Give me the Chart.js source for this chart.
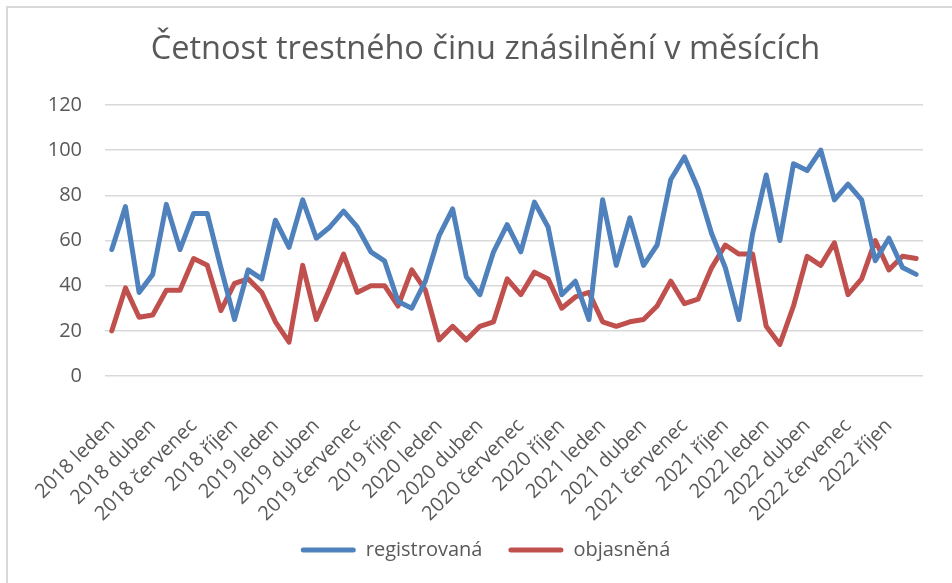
<!DOCTYPE html>
<html>
<head>
<meta charset="utf-8">
<script src="https://cdn.jsdelivr.net/npm/chart.js@4/dist/chart.umd.min.js"></script>
<style>
  html, body { margin: 0; padding: 0; background: #fff; overflow: hidden; }
  #frame {
    position: absolute; left: 6px; top: 6px; width: 958px; height: 600px;
    border-left: 2px solid #d9d9d9; border-top: 2px solid #d9d9d9;
  }
  #box { position: absolute; left: 0; top: 0; width: 958px; height: 575px; }
</style>
</head>
<body>
<div id="frame"><div id="box"><canvas id="myChart"></canvas></div></div>
<script>
// months and years for the category axis
var months = ["leden", "únor", "březen", "duben", "květen", "červen",
              "červenec", "srpen", "září", "říjen", "listopad", "prosinec"];
var years = [2018, 2019, 2020, 2021, 2022];

// values
var registrovana = [56, 75, 37, 45, 76, 56, 72, 72, 48, 25, 47, 43,
                    69, 57, 78, 61, 66, 73, 66, 55, 51, 33, 30, 42,
                    62, 74, 44, 36, 55, 67, 55, 77, 66, 36, 42, 25,
                    78, 49, 70, 49, 58, 87, 97, 83, 63, 48, 25, 63,
                    89, 60, 94, 91, 100, 78, 85, 78, 51, 61, 48, 45];
var objasnena = [20, 39, 26, 27, 38, 38, 52, 49, 29, 41, 43, 37,
                 24, 15, 49, 25, 39, 54, 37, 40, 40, 31, 47, 38,
                 16, 22, 16, 22, 24, 43, 36, 46, 43, 30, 35, 37,
                 24, 22, 24, 25, 31, 42, 32, 34, 48, 58, 54, 54,
                 22, 14, 31, 53, 49, 59, 36, 43, 60, 47, 53, 52];

var labels = [];
for (var y = 0; y < years.length; y++) {
  for (var m = 0; m < months.length; m++) {
    labels.push(years[y] + " " + months[m]);
  }
}

var txt = "#595959";
var font = "'Open Sans', sans-serif";

var ctx = document.getElementById("myChart").getContext("2d");
var mychart = new Chart(ctx, {
  type: "line",
  data: {
    labels: labels,
    datasets: [{
      label: "registrovaná",
      data: registrovana,
      borderColor: "#4f81bd",
      backgroundColor: "#4f81bd",
      borderWidth: 5,
      fill: false
    }, {
      label: "objasněná",
      data: objasnena,
      borderColor: "#c0504d",
      backgroundColor: "#c0504d",
      borderWidth: 5,
      fill: false
    }]
  },
  options: {
    responsive: true,
    maintainAspectRatio: false,
    animation: false,
    layout: { padding: { left: 40, right: 43, top: 0, bottom: 13 } },
    elements: {
      point: { radius: 0 },
      line: { tension: 0, borderJoinStyle: "round", borderCapStyle: "round" }
    },
    scales: {
      x: {
        offset: true,
        grid: { display: false },
        border: { display: false },
        ticks: {
          color: txt,
          font: { family: font, size: 20 },
          autoSkip: false,
          maxRotation: 45,
          minRotation: 45,
          padding: 30,
          callback: function(value, index) {
            return index % 3 === 0 ? labels[index] : "";
          }
        },
        // rotated labels hang out to the left and down, like in the original
        afterFit: function(scale) {
          scale.paddingLeft = 0;
          scale.paddingRight = 0;
          scale.height = 138;
          scale._computeLabelArea = function() { return null; };
        }
      },
      y: {
        min: 0,
        max: 120,
        grid: { color: "#d9d9d9", lineWidth: 1.5, drawTicks: false },
        border: { display: false },
        ticks: {
          stepSize: 20,
          color: txt,
          font: { family: font, size: 20 },
          padding: 23
        },
        afterFit: function(scale) {
          scale.width = 57;
        }
      }
    },
    plugins: {
      title: {
        display: true,
        text: "Četnost trestného činu znásilnění v měsících",
        color: txt,
        font: { family: font, size: 32.5, weight: "normal" },
        padding: { top: 22, bottom: 36 }
      },
      legend: {
        position: "bottom",
        labels: {
          color: txt,
          font: { family: font, size: 20 },
          boxWidth: 55,
          boxHeight: 5,
          useBorderRadius: true,
          borderRadius: 2.5,
          padding: 26,
          generateLabels: function(chart) {
            var items = Chart.defaults.plugins.legend.labels.generateLabels(chart);
            items.forEach(function(it) { it.lineWidth = 0; });
            return items;
          }
        }
      },
      tooltip: { enabled: false }
    }
  }
});
</script>
</body>
</html>
